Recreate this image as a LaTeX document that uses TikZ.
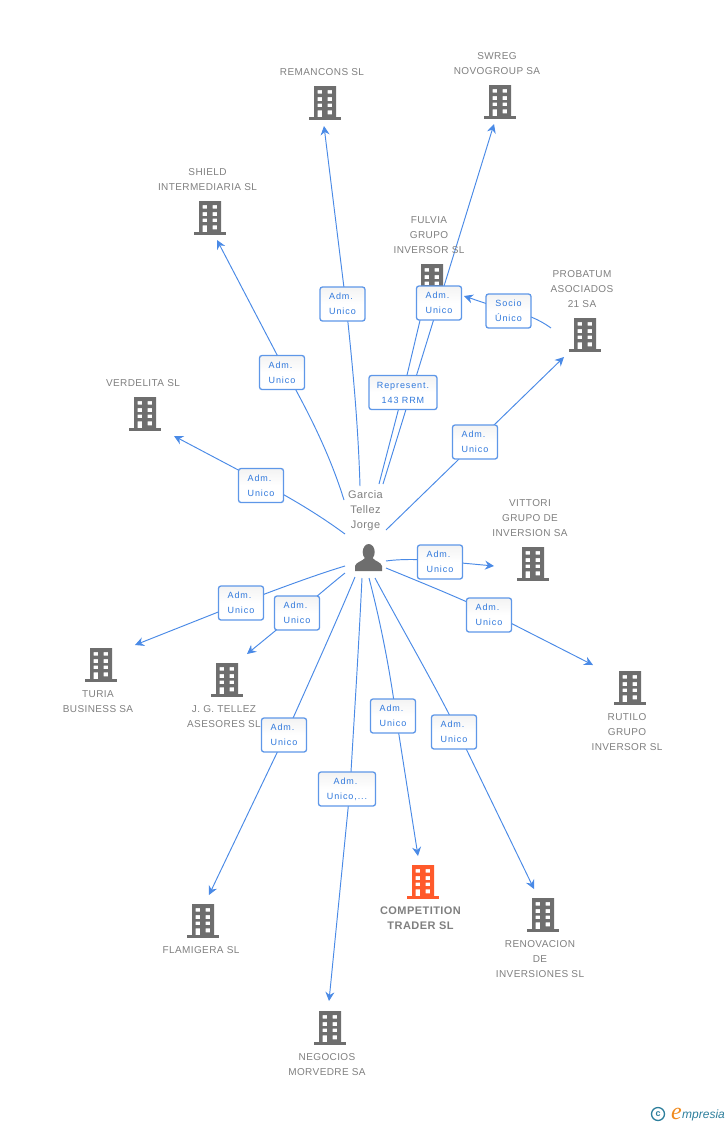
\documentclass[tikz,border=0pt]{standalone}
\usepackage{fontspec}
\setmainfont{Liberation Sans}
\newfontfamily\lblfont[LetterSpace=4]{Liberation Sans}
\newfontfamily\hotfont[LetterSpace=4]{Liberation Sans}
\newfontfamily\tagfont[LetterSpace=10]{Liberation Sans}
\newfontfamily\logofont{Liberation Serif}
\usetikzlibrary{arrows.meta}
\definecolor{edgeblue}{HTML}{4A8AE6}
\definecolor{tagblue}{HTML}{2F78DC}
\definecolor{tagedge}{HTML}{5E97E8}
\definecolor{tagtop}{HTML}{F3F3F3}
\definecolor{txtgray}{HTML}{7F7F7F}
\definecolor{iconGray}{HTML}{6E6E6E}
\definecolor{hot}{HTML}{FF5A2B}
\definecolor{logoteal}{HTML}{2E7F9C}
\definecolor{logoor}{HTML}{F08A1E}
\newcommand{\adm}{Adm.\kern3pt}
\tikzset{
  x=1pt,y=-1pt,
  link/.style={draw=edgeblue,line width=0.95pt},
  arr/.style={link,-{Stealth[length=9pt,width=9pt,inset=3pt]}},
  tagbox/.style={draw=tagedge,line width=1.3pt,top color=tagtop,bottom color=white,middle color=white,rounded corners=2.5pt,minimum width=45pt,minimum height=34pt,inner sep=0pt,align=center,text=tagblue,text depth=-2pt,font=\tagfont\fontsize{9}{15}\selectfont},
  lbltext/.style={align=center,text=txtgray,font=\lblfont\fontsize{10}{15}\selectfont,inner sep=0pt},
}
\newcommand{\bld}[4]{%
  \coordinate (#1) at (#2,#3);
  \begin{scope}[shift={(#2,#3)}]
  \fill[#4,even odd rule] (-11,-17) rectangle (11,14)
    (-7.3,-13) rectangle (-3,-9.3) (2.7,-13) rectangle (7,-9.3)
    (-7.3,-6) rectangle (-3,-2) (2.7,-6) rectangle (7,-2)
    (-7.3,0.7) rectangle (-3,4) (2.7,0.7) rectangle (7,4)
    (-7.3,7.3) rectangle (-3,14) (2.7,7.3) rectangle (7,11.3);
  \fill[#4] (-16,14) rectangle (16,17);
  \end{scope}}
\begin{document}
\begin{tikzpicture}
\useasboundingbox (0,0) rectangle (728,1125);
% free ends
\coordinate (sRem) at (360,486); \coordinate (eRem) at (324,126);
\coordinate (sShi) at (344,500); \coordinate (eShi) at (217,240);
\coordinate (sVer) at (345,534); \coordinate (eVer) at (174,436);
\coordinate (sSwr) at (383,484); \coordinate (eSwr) at (494,124);
\coordinate (sFul) at (379,484); \coordinate (eFul) at (422,312);
\coordinate (sPro) at (386,530); \coordinate (ePro) at (564,357);
\coordinate (sSoc) at (551,328); \coordinate (eSoc) at (464,296);
\coordinate (sVit) at (386,561); \coordinate (eVit) at (494,566);
\coordinate (sRut) at (386,568); \coordinate (eRut) at (593,665);
\coordinate (sRen) at (375,578); \coordinate (eRen) at (534,889);
\coordinate (sCom) at (369,578); \coordinate (eCom) at (418,856);
\coordinate (sNeg) at (362,578); \coordinate (eNeg) at (329,1001);
\coordinate (sFla) at (355,577); \coordinate (eFla) at (209,895);
\coordinate (sJgt) at (345,573); \coordinate (eJgt) at (247,654);
\coordinate (sTur) at (345,566); \coordinate (eTur) at (135,645);
% buildings
\bld{bRem}{325}{103}{iconGray}
\bld{bSwr}{500}{102}{iconGray}
\bld{bShi}{210}{218}{iconGray}
\bld{bFul}{432}{281}{iconGray}
\bld{bPro}{585}{335}{iconGray}
\bld{bVer}{145}{414}{iconGray}
\bld{bVit}{533}{564}{iconGray}
\bld{bTur}{101}{665}{iconGray}
\bld{bJgt}{227}{680}{iconGray}
\bld{bRut}{630}{688}{iconGray}
\bld{bFla}{203}{921}{iconGray}
\bld{bCom}{423}{882}{hot}
\bld{bRen}{543}{915}{iconGray}
\bld{bNeg}{330}{1028}{iconGray}
% person
\coordinate (person) at (369,560);
\fill[iconGray] (368.7,552) ellipse (6 and 8);
\fill[iconGray] (355,571) -- (355,566) .. controls (356,562) and (362,561.5) .. (365,558) -- (372.5,558) .. controls (375.5,561.5) and (381,562) .. (382,566) -- (382,571) -- cycle;
% points the connectors pass through, under the tags
\coordinate (mRem) at (346,304); \coordinate (mShi) at (286,372); \coordinate (mVer) at (261,482);
\coordinate (mSoc) at (508,311); \coordinate (mVit) at (440,561); \coordinate (mRut) at (489,612);
\coordinate (mRen) at (458,732); \coordinate (mCom) at (396,716); \coordinate (mNeg) at (350,789);
\coordinate (mFla) at (285.5,735); \coordinate (mJgt) at (297,613); \coordinate (mTur) at (241,603);
\coordinate (mFul) at (403,392);
\draw[link] (sRem) .. controls (358,420) and (352,360) .. (mRem); \draw[arr] (mRem) -- (eRem);
\draw[link] (sShi) .. controls (330,455) and (310,415) .. (mShi); \draw[arr] (mShi) -- (eShi);
\draw[link] (sVer) .. controls (315,512) and (290,498) .. (mVer); \draw[arr] (mVer) -- (eVer);
\draw[arr] (sSwr) -- (eSwr);
\draw[link] (sFul) -- (mFul) -- (eFul);
\draw[arr] (sPro) -- (ePro);
\draw[link] (sSoc) .. controls (540,320) and (525,313) .. (mSoc); \draw[arr] (mSoc) -- (eSoc);
\draw[link] (sVit) .. controls (400,559) and (420,559) .. (mVit); \draw[arr] (mVit) -- (eVit);
\draw[link] (sRut) .. controls (420,582) and (455,596) .. (mRut); \draw[arr] (mRut) -- (eRut);
\draw[link] (sRen) .. controls (400,625) and (435,685) .. (mRen); \draw[arr] (mRen) -- (eRen);
\draw[link] (sCom) .. controls (380,620) and (390,670) .. (mCom); \draw[arr] (mCom) -- (eCom);
\draw[link] (sNeg) .. controls (358,660) and (354,720) .. (mNeg); \draw[arr] (mNeg) -- (eNeg);
\draw[link] (sFla) .. controls (335,625) and (310,680) .. (mFla); \draw[arr] (mFla) -- (eFla);
\draw[link] (sJgt) .. controls (330,585) and (315,598) .. (mJgt); \draw[arr] (mJgt) -- (eJgt);
\draw[link] (sTur) .. controls (315,575) and (275,590) .. (mTur); \draw[arr] (mTur) -- (eTur);
% tags
\node[tagbox] (tRem) at (342.5,304) {\adm\\Unico};
\node[tagbox] (tShi) at (282,372.5) {\adm\\Unico};
\node[tagbox] (tVer) at (261,485.5) {\adm\\Unico};
\node[tagbox,minimum width=68pt] (tFul) at (403,392.5) {Represent.\\143 RRM};
\node[tagbox] (tSwr) at (439,303) {\adm\\Unico};
\node[tagbox] (tPro) at (475,442) {\adm\\Unico};
\node[tagbox] (tSoc) at (508.5,311) {Socio\\Único};
\node[tagbox] (tVit) at (440,562) {\adm\\Unico};
\node[tagbox] (tRut) at (489,615) {\adm\\Unico};
\node[tagbox] (tRen) at (454,732) {\adm\\Unico};
\node[tagbox] (tCom) at (393,716) {\adm\\Unico};
\node[tagbox,minimum width=57pt] (tNeg) at (347,789) {\adm\\Unico,...};
\node[tagbox] (tFla) at (284,735) {\adm\\Unico};
\node[tagbox] (tJgt) at (297,613) {\adm\\Unico};
\node[tagbox] (tTur) at (241,603) {\adm\\Unico};
% names
\node[lbltext] (nRem) at (322,72) {REMANCONS SL};
\node[lbltext] (nSwr) at (497,64) {SWREG\\NOVOGROUP SA};
\node[lbltext] (nShi) at (207.5,180) {SHIELD\\INTERMEDIARIA SL};
\node[lbltext] (nFul) at (429,235) {FULVIA\\GRUPO\\INVERSOR SL};
\node[lbltext] (nPro) at (582,289) {PROBATUM\\ASOCIADOS\\21 SA};
\node[lbltext] (nVer) at (143,383) {VERDELITA SL};
\node[lbltext,font=\lblfont\fontsize{11}{15}\selectfont] (nPer) at (365.5,510.5) {Garcia\\Tellez\\Jorge};
\node[lbltext] (nVit) at (530,518) {VITTORI\\GRUPO DE\\INVERSION SA};
\node[lbltext] (nTur) at (98,702) {TURIA\\BUSINESS SA};
\node[lbltext] (nJgt) at (224,717) {J. G. TELLEZ\\ASESORES SL};
\node[lbltext] (nRut) at (627,732) {RUTILO\\GRUPO\\INVERSOR SL};
\node[lbltext] (nFla) at (201,950) {FLAMIGERA SL};
\node[lbltext,font=\hotfont\bfseries\fontsize{11}{15}\selectfont] (nCom) at (420.5,918.5) {COMPETITION\\TRADER SL};
\node[lbltext] (nRen) at (540,959) {RENOVACION\\DE\\INVERSIONES SL};
\node[lbltext] (nNeg) at (327,1065) {NEGOCIOS\\MORVEDRE SA};
% logo
\node[draw=logoteal,line width=1.3pt,circle,minimum size=13pt,inner sep=0pt,text=logoteal,font=\bfseries\fontsize{9}{9}\selectfont] (logoC) at (658,1114) {c};
\node[inner sep=0pt,anchor=base west,text=logoor,font=\logofont\itshape\fontsize{24}{24}\selectfont] (logoE) at (671,1119) {e};
\node[inner sep=0pt,anchor=base west,text=logoteal,font=\fontsize{12}{13}\itshape\selectfont] (logoT) at (682,1118) {mpresia};
\end{tikzpicture}
\end{document}
